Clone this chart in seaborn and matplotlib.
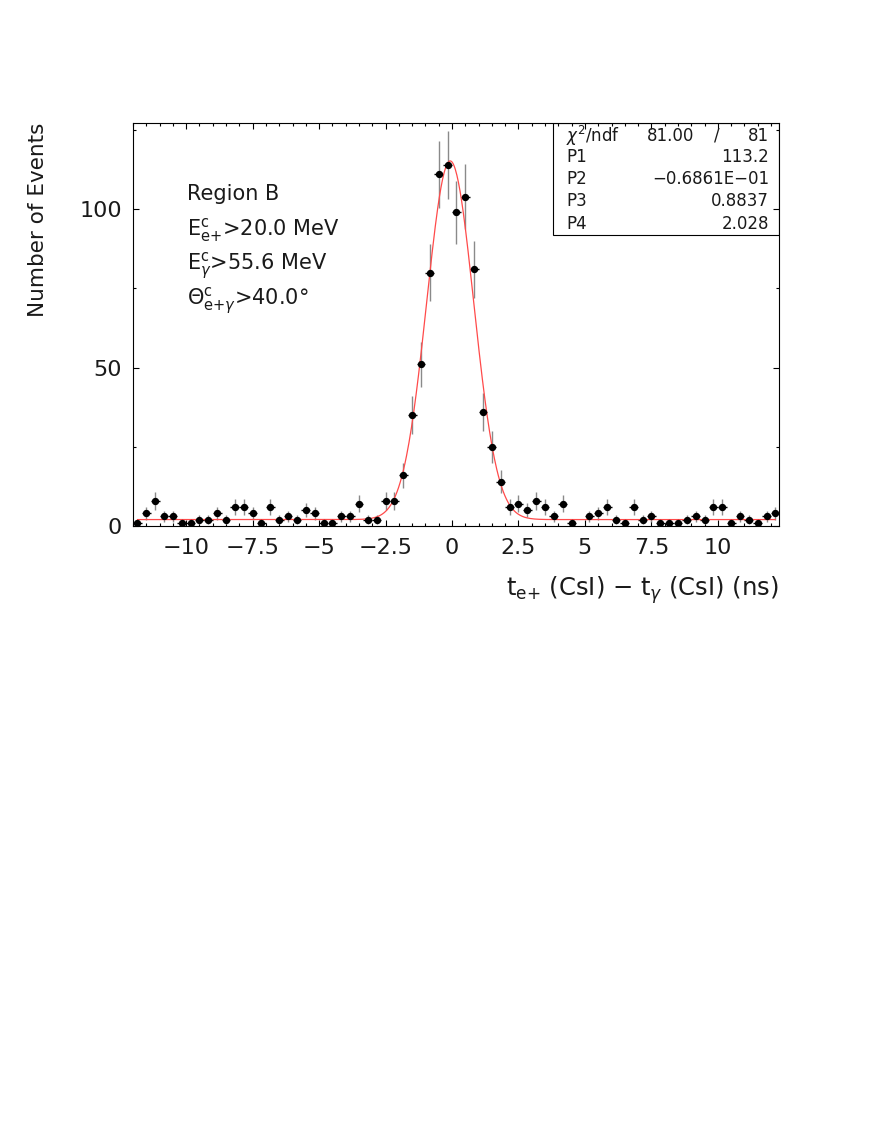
import numpy as np
import pandas as pd
import matplotlib
matplotlib.use("Agg")
import matplotlib.pyplot as plt
import seaborn as sns
from matplotlib.ticker import MultipleLocator, FuncFormatter
from matplotlib.patches import Rectangle

# ---------------- data ----------------
t_centers = [
    -11.833, -11.5, -11.167, -10.833, -10.5, -10.167, -9.833, -9.5, -9.167, -8.833,
    -8.5, -8.167, -7.833, -7.5, -7.167, -6.833, -6.5, -6.167, -5.833, -5.5,
    -5.167, -4.833, -4.5, -4.167, -3.833, -3.5, -3.167, -2.833, -2.5, -2.167,
    -1.833, -1.5, -1.167, -0.833, -0.5, -0.167, 0.167, 0.5, 0.833, 1.167,
    1.5, 1.833, 2.167, 2.5, 2.833, 3.167, 3.5, 3.833, 4.167, 4.5,
    4.833, 5.167, 5.5, 5.833, 6.167, 6.5, 6.833, 7.167, 7.5, 7.833,
    8.167, 8.5, 8.833, 9.167, 9.5, 9.833, 10.167, 10.5, 10.833, 11.167,
    11.5, 11.833, 12.167,
]
counts = [
    1, 4, 8, 3, 3, 1, 1, 2, 2, 4,
    2, 6, 6, 4, 1, 6, 2, 3, 2, 5,
    4, 1, 1, 3, 3, 7, 2, 2, 8, 8,
    16, 35, 51, 80, 111, 114, 99, 104, 81, 36,
    25, 14, 6, 7, 5, 8, 6, 3, 7, 1,
    0, 3, 4, 6, 2, 1, 6, 2, 3, 1,
    1, 1, 2, 3, 2, 6, 6, 1, 3, 2,
    1, 3, 4,
]
bin_half_width = 1.0 / 6.0

# fit parameters (gaussian + constant)
fit_params = {"P1": 113.2, "P2": -0.06861, "P3": 0.8837, "P4": 2.028}
chi2, ndf = 81.00, 81

annot_lines = [
    "Region B",
    r"E$^{\mathrm{c}}_{\mathrm{e{+}}}$>20.0 MeV",
    r"E$^{\mathrm{c}}_{\gamma}$>55.6 MeV",
    r"$\Theta^{\mathrm{c}}_{\mathrm{e{+}}\gamma}$>40.0°",
]

# ---------------- style ----------------
sns.set_theme(style="ticks")
plt.rcParams["font.family"] = ["DejaVu Sans"]
plt.rcParams["mathtext.fontset"] = "dejavusans"
plt.rcParams["axes.unicode_minus"] = True

TXT = "#1a1a1a"
W, H = 872, 1128
fig = plt.figure(figsize=(W / 100, H / 100), dpi=100)
L, R, T, B = 133, 779, 123, 526
ax = fig.add_axes([L / W, 1 - B / H, (R - L) / W, (B - T) / H])

df = pd.DataFrame({"t": t_centers, "n": counts})
shown = df[df["n"] > 0].reset_index(drop=True)

# error bars
ax.errorbar(shown["t"], shown["n"], yerr=np.sqrt(shown["n"]), fmt="none",
            ecolor="#8a8a8a", elinewidth=1.0, capsize=0, zorder=2)
ax.errorbar(shown["t"], shown["n"], xerr=bin_half_width, fmt="none",
            ecolor="black", elinewidth=1.0, capsize=0, zorder=2)

# fit curve
xs = np.linspace(t_centers[0], t_centers[-1], 800)
p = fit_params
fit = p["P1"] * np.exp(-0.5 * ((xs - p["P2"]) / p["P3"]) ** 2) + p["P4"]
sns.lineplot(x=xs, y=fit, ax=ax, color="#ff4a4a", linewidth=0.9, zorder=4)

# points
sns.scatterplot(data=shown, x="t", y="n", ax=ax, color="black", s=28,
                edgecolor="black", linewidth=0, zorder=5)

ax.set_xlim(-12.0, 12.3)
ax.set_ylim(0, 127.2)

ax.xaxis.set_major_locator(MultipleLocator(2.5))
ax.xaxis.set_minor_locator(MultipleLocator(0.5))
ax.yaxis.set_major_locator(MultipleLocator(50))
ax.yaxis.set_minor_locator(MultipleLocator(25))
fmt = FuncFormatter(lambda v, pos: ("%g" % v).replace("-", "\u2212"))
ax.xaxis.set_major_formatter(fmt)
ax.yaxis.set_major_formatter(fmt)

ax.tick_params(which="both", direction="in", top=True, right=True,
               colors="black", width=0.8, labelsize=16, labelcolor=TXT)
ax.tick_params(which="major", length=4.5)
ax.tick_params(which="minor", length=2.2)
ax.tick_params(axis="x", pad=9)
ax.tick_params(axis="y", pad=8)
for s in ax.spines.values():
    s.set_color("black")
    s.set_linewidth(0.8)

ax.set_xlabel(r"t$_{\mathrm{e{+}}}$ (CsI) $-$ t$_{\gamma}$ (CsI) (ns)", fontsize=17.5,
              color=TXT)
ax.xaxis.set_label_coords(1.0, -0.16)
ax.xaxis.label.set_horizontalalignment("right")
ax.xaxis.label.set_verticalalignment("center")
ax.set_ylabel("Number of Events", fontsize=15.5, color=TXT)
ax.yaxis.set_label_coords(-0.147, 0.76)
ax.yaxis.label.set_verticalalignment("center")


def fx(px):
    return (px - L) / (R - L)


def fy(py):
    return (B - py) / (B - T)


# annotation
for line, py in zip(annot_lines, [194, 230, 266, 301]):
    ax.text(fx(187), fy(py), line, transform=ax.transAxes, fontsize=15,
            va="center", ha="left", color=TXT)

# stats box
ax.add_patch(Rectangle((fx(553), fy(235)), 1 - fx(553), 1 - fy(235),
                       transform=ax.transAxes, fill=False, edgecolor="black",
                       linewidth=0.8, zorder=6))
rows = [
    ("P1", "%.1f" % p["P1"]),
    ("P2", "\u22120.6861E\u221201"),
    ("P3", "%.4f" % p["P3"]),
    ("P4", "%.3f" % p["P4"]),
]
row_y = [136, 157, 179, 201, 224]
FS = 12
ax.text(fx(566), fy(row_y[0]), r"$\chi^2$/ndf", transform=ax.transAxes,
        fontsize=FS, va="center", ha="left", color=TXT)
ax.text(fx(694), fy(row_y[0]), "%.2f" % chi2, transform=ax.transAxes,
        fontsize=FS, va="center", ha="right", color=TXT)
ax.text(fx(717), fy(row_y[0]), "/", transform=ax.transAxes,
        fontsize=FS, va="center", ha="center", color=TXT)
ax.text(fx(769), fy(row_y[0]), "%d" % ndf, transform=ax.transAxes,
        fontsize=FS, va="center", ha="right", color=TXT)
for (lab, val), py in zip(rows, row_y[1:]):
    ax.text(fx(566), fy(py), lab, transform=ax.transAxes, fontsize=FS,
            va="center", ha="left", color=TXT)
    ax.text(fx(769), fy(py), val, transform=ax.transAxes, fontsize=FS,
            va="center", ha="right", color=TXT)

fig.savefig("out.png", dpi=100)
